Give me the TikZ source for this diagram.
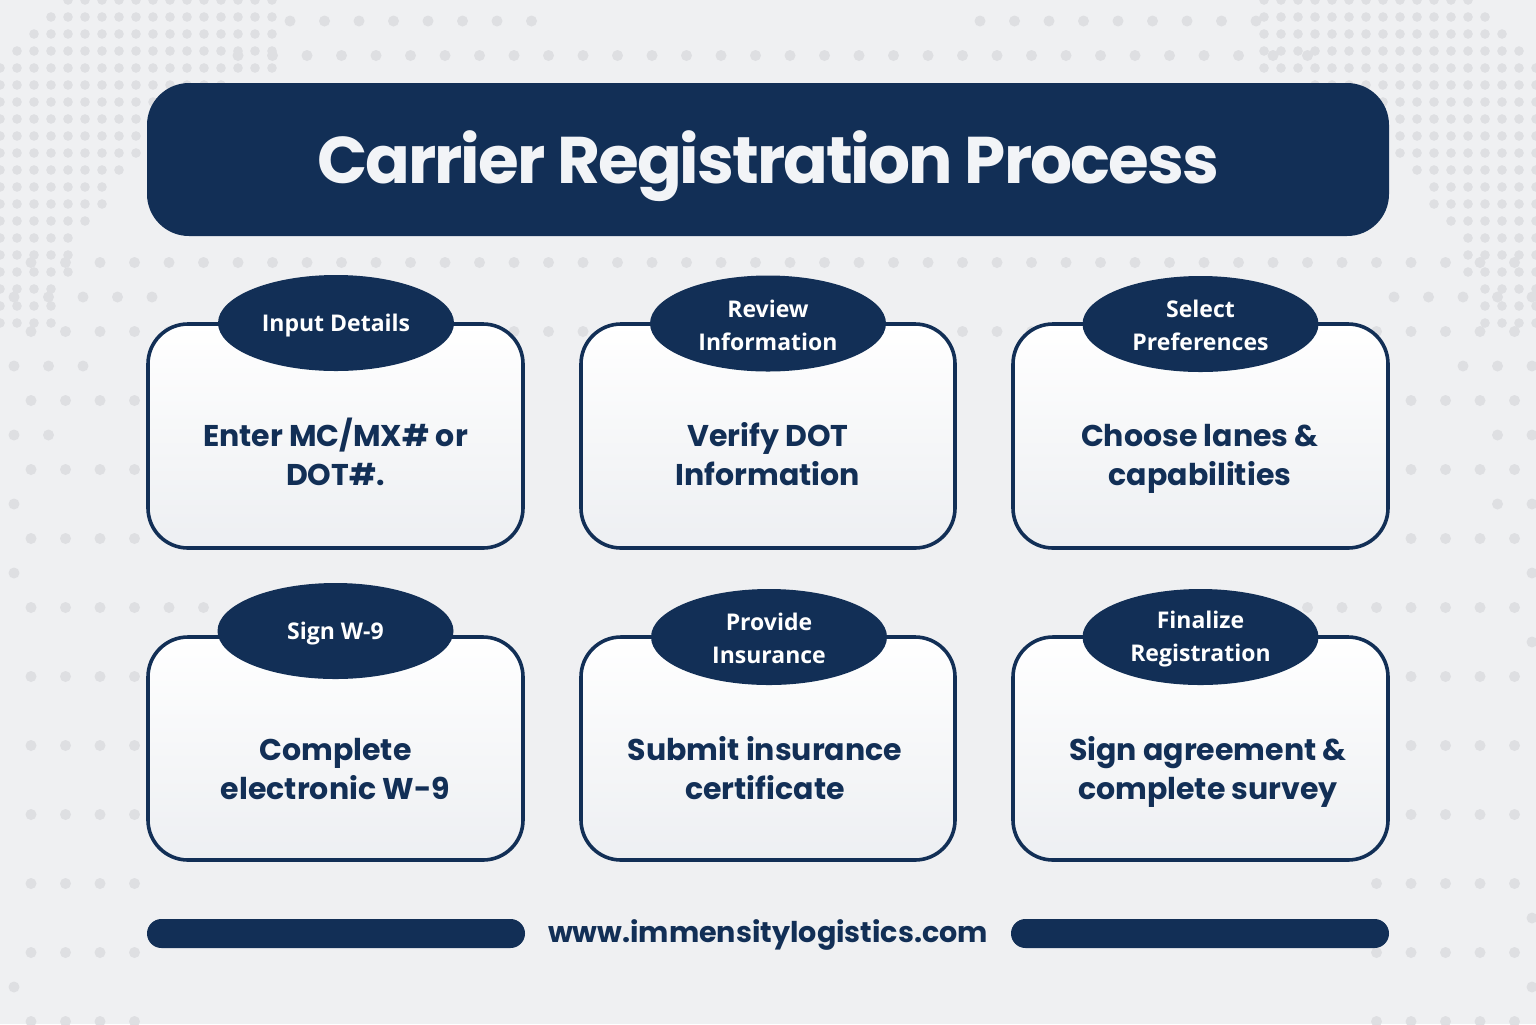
\documentclass[tikz,border=0pt]{standalone}
\usepackage{fontspec}
\setmainfont{Poppins}
\newfontfamily\osans{Open Sans}
\usetikzlibrary{shapes.geometric}
\definecolor{navy}{HTML}{122F56}
\definecolor{bgc}{HTML}{EFF0F2}
\definecolor{dotc}{HTML}{DEDFE2}
\definecolor{cardb}{HTML}{EDEFF2}
\definecolor{titletext}{HTML}{F2F4F7}
\tikzset{
  card/.style={draw=navy, line width=1.8pt, rounded corners=20pt, top color=white, bottom color=cardb,
    minimum height=112pt, inner sep=0pt},
  tag/.style={ellipse, fill=navy, minimum width=118pt, minimum height=48pt, inner sep=0pt},
  tagtext/.style={text=white, align=center, inner sep=0pt, font=\osans\bfseries\fontsize{11.5}{16.5}\selectfont},
  body/.style={anchor=base, text=navy, font=\bfseries\fontsize{15}{19.5}\selectfont, inner sep=0pt},
  bar/.style={fill=navy, rounded corners=7.25pt, minimum height=14.5pt, minimum width=189pt, inner sep=0pt},
  bgdot/.style={fill=dotc, draw=none}
}
\newcommand\dotrow[4]{%
  \foreach \k in {#3,...,#4}{\fill[bgdot] ({#2+34.5*\k},{21+34.5*#1}) circle[radius=2.75pt];}}
\begin{document}
\begin{tikzpicture}[x=0.5pt,y=-0.5pt]
\fill[bgc] (0,0) rectangle (1536,1024);
\useasboundingbox (0,0) rectangle (1536,1024);
% halftone corner bands
\foreach \i in {0,...,16}{\foreach \j in {0,...,19}{
  \pgfmathsetmacro\dd{veclen(\i*17-400,\j*17-400)}
  \ifdim\dd pt>355pt \ifdim\dd pt<520pt
    \fill[bgdot] (\i*17,\j*17) circle[radius=2.4pt];
    \fill[bgdot] (1536-\i*17,\j*17) circle[radius=2.4pt];
  \fi\fi
}}
% regular dot grid
\dotrow{0}{14}{8}{15}\dotrow{0}{14}{28}{36}
\dotrow{1}{31}{6}{37}
\dotrow{7}{31}{0}{43}
\dotrow{8}{14}{0}{4}\dotrow{8}{14}{40}{44}
\dotrow{9}{31}{0}{43}
\dotrow{10}{14}{0}{2}\dotrow{10}{14}{42}{44}
\dotrow{11}{31}{0}{3}\dotrow{11}{31}{40}{43}
\dotrow{12}{14}{0}{1}\dotrow{12}{14}{43}{44}
\dotrow{13}{31}{0}{3}\dotrow{13}{31}{40}{43}
\dotrow{14}{14}{0}{0}\dotrow{14}{14}{43}{44}
\dotrow{15}{31}{0}{3}\dotrow{15}{31}{40}{43}
\dotrow{16}{14}{0}{0}\dotrow{16}{14}{44}{44}
\dotrow{17}{31}{0}{5}\dotrow{17}{31}{37}{43}
\dotrow{18}{14}{44}{44}
\dotrow{19}{31}{0}{3}\dotrow{19}{31}{40}{43}
\dotrow{21}{31}{0}{3}\dotrow{21}{31}{40}{43}
\dotrow{23}{31}{0}{3}\dotrow{23}{31}{40}{43}
\dotrow{25}{31}{0}{3}\dotrow{25}{31}{39}{43}
\dotrow{26}{14}{44}{44}
\dotrow{27}{31}{0}{3}\dotrow{27}{31}{39}{43}
\dotrow{28}{14}{0}{0}\dotrow{28}{14}{44}{44}
\dotrow{29}{31}{0}{3}\dotrow{29}{31}{39}{43}
% title
\node[fill=navy, rounded corners=21pt, minimum width=621pt, minimum height=76.5pt, inner sep=0pt] (title) at (768,159.5) {};
\node[anchor=base, text=titletext, font=\bfseries\fontsize{33}{40}\selectfont\addfontfeatures{LetterSpace=-3}] (titletxt) at (768,183) {Carrier Registration Process};
% cards
\node[card, minimum width=187.5pt] (c1) at (335.5,436) {};
\node[card, minimum width=187pt] (c2) at (768,436) {};
\node[card, minimum width=187.5pt] (c3) at (1200.5,436) {};
\node[card, minimum width=187.5pt, minimum height=111.5pt] (c4) at (335.5,748.5) {};
\node[card, minimum width=187pt, minimum height=111.5pt] (c5) at (768,748.5) {};
\node[card, minimum width=187.5pt, minimum height=111.5pt] (c6) at (1200.5,748.5) {};
% tags
\node[tag] (g1) at (336,323) {};
\node[tag] (g2) at (768,323.5) {};
\node[tag] (g3) at (1200.5,324) {};
\node[tag] (g4) at (335.5,631) {};
\node[tag] (g5) at (769,637) {};
\node[tag] (g6) at (1200.5,637) {};
\node[tagtext] (g1t) at ([yshift=-1.1pt]g1.center) {Input Details};
\node[tagtext] (g2t) at ([yshift=-0.7pt]g2.center) {Review\\Information};
\node[tagtext] (g3t) at ([yshift=-0.5pt]g3.center) {Select\\Preferences};
\node[tagtext] (g4t) at ([yshift=-1.3pt]g4.center) {Sign W-9};
\node[tagtext] (g5t) at ([yshift=-0.5pt]g5.center) {Provide\\Insurance};
\node[tagtext] (g6t) at ([yshift=-1pt]g6.center) {Finalize\\Registration};
% body texts
\node[body] (b1a) at (335.5,446) {Enter MC/MX\# or};
\node[body] (b1b) at (335.5,485) {DOT\#.};
\node[body] (b2a) at (768,446) {Verify DOT};
\node[body] (b2b) at (768,485) {Information};
\node[body] (b3a) at (1200,446) {Choose lanes \&};
\node[body] (b3b) at (1200,485) {capabilities};
\node[body] (b4a) at (335.5,760) {Complete};
\node[body] (b4b) at (335.5,799) {electronic W-9};
\node[body] (b5a) at (765,760) {Submit insurance};
\node[body] (b5b) at (765,799) {certificate};
\node[body] (b6a) at (1208,760) {Sign agreement \&};
\node[body] (b6b) at (1208,799) {complete survey};
% footer
\node[bar] (barl) at (336,933.5) {};
\node[bar] (barr) at (1200,933.5) {};
\node[text=navy, font=\bfseries\fontsize{14.3}{18}\selectfont] (url) at (768,935) {www.immensitylogistics.com};
\end{tikzpicture}
\end{document}
